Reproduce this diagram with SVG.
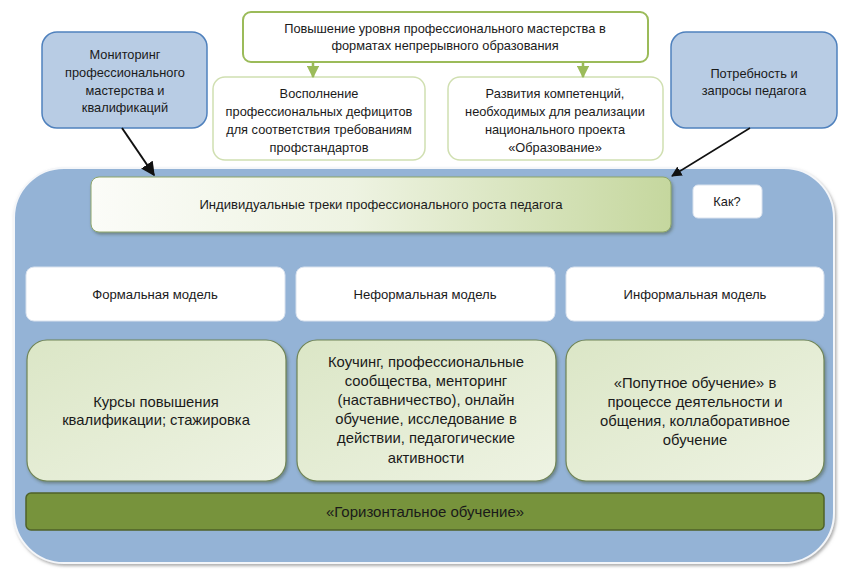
<svg xmlns="http://www.w3.org/2000/svg" width="850" height="573" viewBox="0 0 850 573">
<defs>
<style>
text{font-family:"Liberation Sans",Arial,sans-serif;fill:#1a1a1a;text-anchor:middle}
.t12{font-size:12.8px}
.t13{font-size:13.1px}
.t14{font-size:14.8px}
.t15{font-size:15px}
.greenTop{fill:#fff;stroke:#9bbb59;stroke-width:2}
.greenSub{fill:#fff;stroke:#d0dfb1;stroke-width:1.5}
.blueBox{fill:#b8cce4;stroke:#4f81bd;stroke-width:1.5}
.white{fill:#fff;stroke:#d9e2ee;stroke-width:1}
.content{fill:url(#gContent);stroke:#6f8456;stroke-width:1.2}
</style>
<linearGradient id="gTrack" x1="0" y1="0" x2="1" y2="0">
<stop offset="0" stop-color="#fbfcf8"/>
<stop offset="0.45" stop-color="#eef3e2"/>
<stop offset="1" stop-color="#c5d79e"/>
</linearGradient>
<linearGradient id="gContent" x1="0" y1="0" x2="1" y2="1">
<stop offset="0" stop-color="#dbe6c6"/>
<stop offset="1" stop-color="#eef3e3"/>
</linearGradient>
<filter id="sh" x="-5%" y="-5%" width="110%" height="120%">
<feDropShadow dx="1.5" dy="2" stdDeviation="1.5" flood-color="#3a4a2a" flood-opacity="0.45"/>
</filter>
<filter id="shBig" x="-5%" y="-5%" width="110%" height="110%">
<feDropShadow dx="1.5" dy="2" stdDeviation="1.5" flood-color="#777" flood-opacity="0.6"/>
</filter>
<marker id="ahBlack" viewBox="0 0 10 10" refX="9" refY="5" markerWidth="7" markerHeight="7" orient="auto-start-reverse">
<path d="M0,0 L10,5 L0,10 Z" fill="#111"/>
</marker>
<marker id="ahGreen" viewBox="0 0 10 10" refX="9" refY="5" markerWidth="5" markerHeight="5" orient="auto">
<path d="M0,0 L10,5 L0,10 Z" fill="#9bbb59"/>
</marker>
</defs>
<rect width="850" height="573" fill="#fff"/>

<g id="container">
<rect x="14" y="168" width="820" height="395" rx="50" ry="50" fill="#94b3d6" stroke="#f4f6f9" stroke-width="2" filter="url(#shBig)"/>
</g>

<g id="node-top">
<rect class="greenTop" x="243" y="12" width="405" height="50" rx="8"/>
<text class="t12" x="445" y="33">Повышение уровня профессионального мастерства в</text>
<text class="t12" x="445" y="50">форматах непрерывного образования</text>
</g>

<g id="node-deficits">
<rect class="greenSub" x="213" y="77" width="212" height="83" rx="12"/>
<text class="t12" x="319" y="98">Восполнение</text>
<text class="t12" x="319" y="116">профессиональных дефицитов</text>
<text class="t12" x="319" y="134">для соответствия требованиям</text>
<text class="t12" x="319" y="152">профстандартов</text>
</g>

<g id="node-competences">
<rect class="greenSub" x="448" y="77" width="215" height="83" rx="12"/>
<text class="t12" x="555" y="98">Развития компетенций,</text>
<text class="t12" x="555" y="116">необходимых для реализации</text>
<text class="t12" x="555" y="134">национального проекта</text>
<text class="t12" x="555" y="152">«Образование»</text>
</g>

<g id="node-monitoring">
<rect class="blueBox" x="42" y="32" width="165" height="96" rx="15"/>
<text class="t12" x="125" y="59">Мониторинг</text>
<text class="t12" x="125" y="77">профессионального</text>
<text class="t12" x="125" y="95">мастерства и</text>
<text class="t12" x="125" y="112">квалификаций</text>
</g>

<g id="node-needs">
<rect class="blueBox" x="671" y="32" width="166" height="96" rx="15"/>
<text class="t12" x="754" y="78">Потребность и</text>
<text class="t12" x="754" y="95">запросы педагога</text>
</g>

<g id="node-tracks">
<rect x="91" y="177" width="580" height="55" rx="8" fill="url(#gTrack)" stroke="#8ea66a" stroke-width="1" filter="url(#sh)"/>
<text class="t13" x="381" y="209">Индивидуальные треки профессионального роста педагога</text>
</g>

<g id="node-how">
<rect x="693" y="185" width="69" height="33" rx="5" fill="#fff" stroke="#d9e2ee" stroke-width="1"/>
<text class="t12" x="727" y="206">Как?</text>
</g>

<g id="node-formal">
<rect class="white" x="26" y="267" width="259" height="54" rx="8"/>
<text class="t13" x="155" y="299">Формальная модель</text>
</g>
<g id="node-nonformal">
<rect class="white" x="296" y="267" width="259" height="54" rx="8"/>
<text class="t13" x="425" y="299">Неформальная модель</text>
</g>
<g id="node-informal">
<rect class="white" x="566" y="267" width="258" height="54" rx="8"/>
<text class="t13" x="695" y="299">Информальная модель</text>
</g>

<g id="node-courses">
<rect class="content" x="27" y="340" width="259" height="141" rx="20" filter="url(#sh)"/>
<text class="t14" x="156" y="407">Курсы повышения</text>
<text class="t14" x="156" y="425">квалификации; стажировка</text>
</g>
<g id="node-coaching">
<rect class="content" x="297" y="340" width="259" height="141" rx="20" filter="url(#sh)"/>
<text class="t14" x="426" y="367">Коучинг, профессиональные</text>
<text class="t14" x="426" y="386">сообщества, менторинг</text>
<text class="t14" x="426" y="405">(наставничество), онлайн</text>
<text class="t14" x="426" y="424">обучение, исследование в</text>
<text class="t14" x="426" y="443">действии, педагогические</text>
<text class="t14" x="426" y="463">активности</text>
</g>
<g id="node-incidental">
<rect class="content" x="566" y="340" width="258" height="141" rx="20" filter="url(#sh)"/>
<text class="t14" x="695" y="388">«Попутное обучение» в</text>
<text class="t14" x="695" y="407">процессе деятельности и</text>
<text class="t14" x="695" y="426">общения, коллаборативное</text>
<text class="t14" x="695" y="445">обучение</text>
</g>

<g id="node-horizontal">
<rect x="26" y="493" width="798" height="37" rx="5" fill="#77933c" stroke="#4f6228" stroke-width="1.5"/>
<text class="t15" x="425" y="517">«Горизонтальное обучение»</text>
</g>

<g id="connectors" fill="none">
<line x1="313" y1="62" x2="313" y2="77" stroke="#9bbb59" stroke-width="2.5" marker-end="url(#ahGreen)"/>
<line x1="583" y1="62" x2="583" y2="77" stroke="#9bbb59" stroke-width="2.5" marker-end="url(#ahGreen)"/>
<line x1="122" y1="128" x2="154" y2="175" stroke="#111" stroke-width="2" marker-end="url(#ahBlack)"/>
<line x1="750" y1="128" x2="672" y2="176" stroke="#111" stroke-width="1.5" marker-end="url(#ahBlack)"/>
</g>
</svg>
